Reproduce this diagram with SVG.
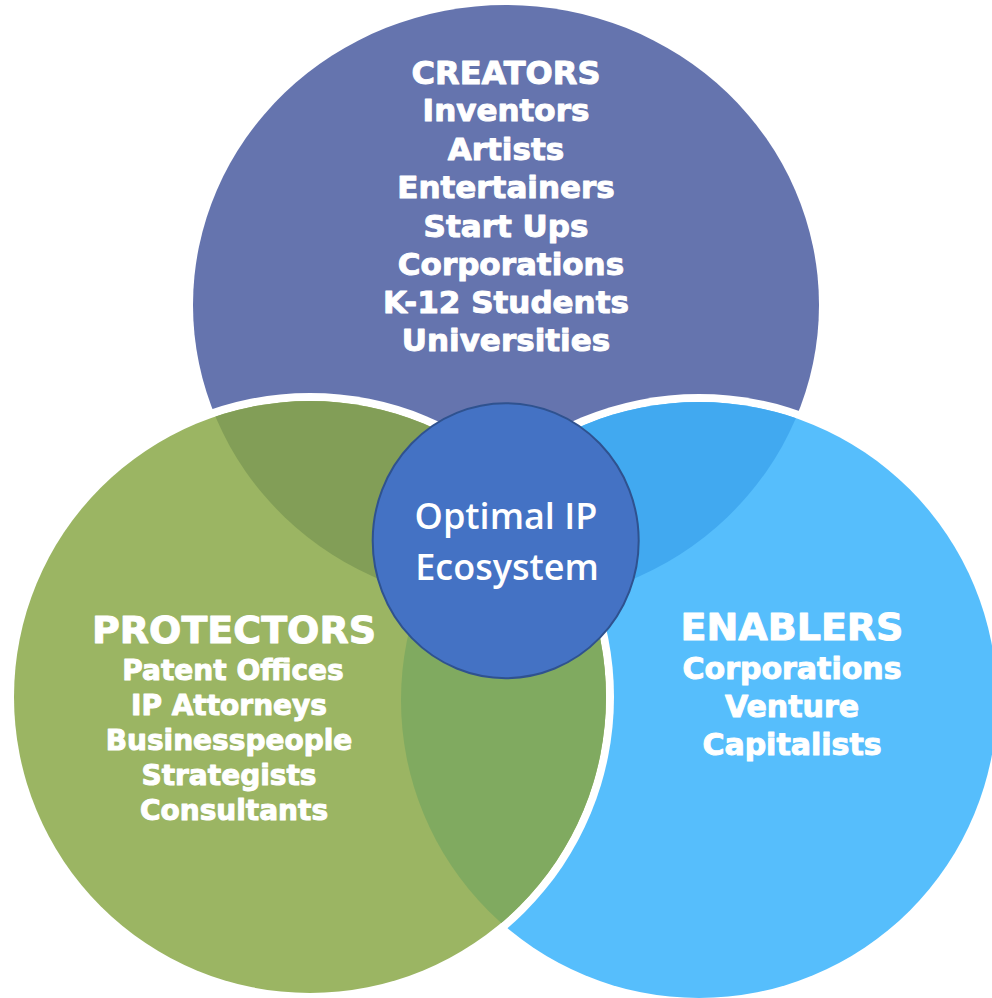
<svg xmlns="http://www.w3.org/2000/svg" width="992" height="998" viewBox="0 0 992 998">
  <style>
    .lbl { font-family: "DejaVu Sans", "Liberation Sans", sans-serif; font-weight: bold; fill: #ffffff; text-anchor: middle; stroke: #ffffff; stroke-width: 1; stroke-linejoin: round; }
    .ctr { font-family: "Open Sans", "Liberation Sans", sans-serif; font-weight: 600; fill: #ffffff; text-anchor: middle; }
    .ring { fill: #ffffff; }
  </style>
  <defs>
    <clipPath id="clipGreen"><circle cx="310" cy="697" r="296"/></clipPath>
    <clipPath id="clipBlue"><circle cx="699" cy="700" r="298"/></clipPath>
  </defs>
  <rect x="0" y="0" width="992" height="998" fill="#ffffff"/>

  <g id="creators">
    <ellipse cx="506" cy="305" rx="313" ry="300" fill="#6574AE"/>
  </g>

  <g id="enablers">
    <circle cx="699" cy="700" r="306" class="ring"/>
    <circle cx="699" cy="700" r="298" fill="#56BEFC"/>
    <ellipse cx="506" cy="305" rx="313" ry="300" fill="#41A9F0" clip-path="url(#clipBlue)"/>
  </g>

  <g id="protectors">
    <circle cx="310" cy="697" r="304" class="ring"/>
    <circle cx="310" cy="697" r="296" fill="#9BB563"/>
    <ellipse cx="506" cy="305" rx="313" ry="300" fill="#829E57" clip-path="url(#clipGreen)"/>
    <circle cx="699" cy="700" r="298" fill="#80AA60" clip-path="url(#clipGreen)"/>
  </g>

  <g id="creators-text">
    <text class="lbl" x="506" y="84" font-size="32">CREATORS</text>
    <text class="lbl" x="506" y="121" font-size="31">Inventors</text>
    <text class="lbl" x="506" y="160" font-size="31">Artists</text>
    <text class="lbl" x="506" y="198" font-size="31">Entertainers</text>
    <text class="lbl" x="506" y="237" font-size="31">Start Ups</text>
    <text class="lbl" x="511" y="275" font-size="31">Corporations</text>
    <text class="lbl" x="506" y="313" font-size="31">K-12 Students</text>
    <text class="lbl" x="506" y="351" font-size="31">Universities</text>
  </g>

  <g id="protectors-text">
    <text class="lbl" x="234" y="643" font-size="38">PROTECTORS</text>
    <text class="lbl" x="233" y="680" font-size="28">Patent Offices</text>
    <text class="lbl" x="229" y="715" font-size="28">IP Attorneys</text>
    <text class="lbl" x="229" y="750" font-size="28">Businesspeople</text>
    <text class="lbl" x="229" y="785" font-size="28">Strategists</text>
    <text class="lbl" x="234" y="820" font-size="28">Consultants</text>
  </g>

  <g id="enablers-text">
    <text class="lbl" x="792" y="640" font-size="38">ENABLERS</text>
    <text class="lbl" x="792" y="679" font-size="30">Corporations</text>
    <text class="lbl" x="792" y="717" font-size="30">Venture</text>
    <text class="lbl" x="792" y="755" font-size="30">Capitalists</text>
  </g>

  <g id="connectors"></g>

  <g id="ecosystem">
    <ellipse cx="505.7" cy="540.7" rx="133" ry="137.5" fill="#4472C4" stroke="#2F528F" stroke-width="2"/>
    <text class="ctr" x="506" y="529" font-size="36">Optimal IP</text>
    <text class="ctr" x="507" y="580" font-size="36">Ecosystem</text>
  </g>
</svg>
